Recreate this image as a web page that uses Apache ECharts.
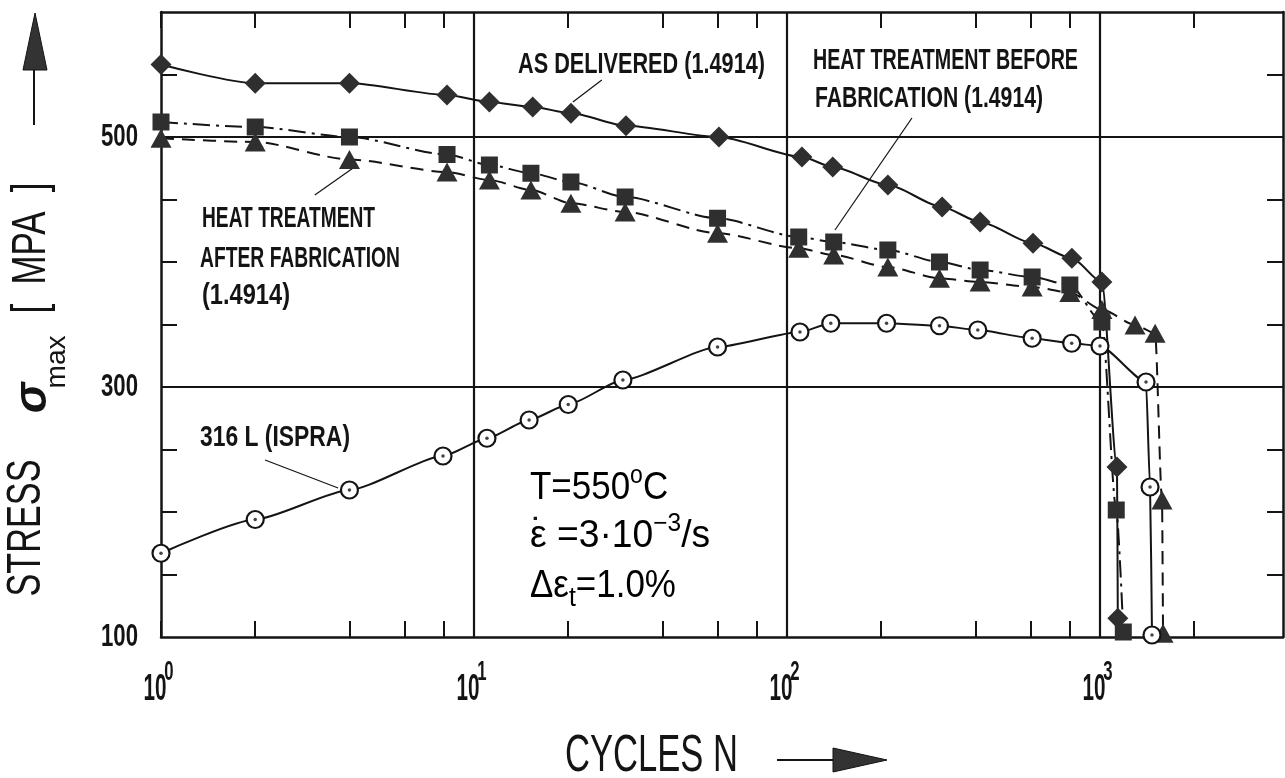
<!DOCTYPE html>
<html><head><meta charset="utf-8">
<script src="https://cdn.jsdelivr.net/npm/echarts@6/dist/echarts.min.js"></script>
<style>html,body{margin:0;padding:0;background:#fff}#c{width:1285px;height:778px}</style>
</head><body><div id="c"></div>
<script>
// ---------------- data ----------------
const asDeliveredN = [1, 2, 4, 8.2, 11.2, 15.4, 20.4, 30.6, 60.6, 111.6, 140, 210, 313, 414, 611, 813, 1014, 1133, 1140];
const asDeliveredS = [558, 543, 543, 533.6, 528, 524, 519, 509, 500, 484, 476, 461.6, 444, 432, 415, 403, 384, 236, 115];

const beforeFabN = [1, 2, 4, 8.2, 11.2, 15.2, 20.4, 30.4, 60, 109, 141, 210, 307, 414, 607, 801, 1014, 1127, 1187];
const beforeFabS = [512, 508, 500, 486, 477.6, 471, 464, 452, 435, 420, 416, 409.6, 400, 393.6, 388, 381.6, 352, 201.6, 104];

const afterFabN = [1, 2, 4, 8.2, 11.2, 15.2, 20.4, 30.4, 60, 109, 141, 210, 307, 414, 607, 801, 1014, 1294, 1500, 1578, 1590];
const afterFabS = [499, 496, 482, 472, 465.6, 457.6, 447, 440, 423, 411, 405.6, 396, 387, 384, 380, 375.6, 362, 349.6, 343, 209.6, 103];

const ispraN = [1, 2, 4, 7.96, 11, 15, 20, 29.9, 60, 110, 138, 208, 307, 407, 607, 812, 1000, 1403, 1445, 1466];
const ispraS = [167, 194, 217.6, 244.8, 259, 273.6, 286, 305.6, 332, 344, 351, 351, 349, 345.6, 339, 335, 332.8, 304, 220, 101.6];

const xTickLabels = [1, 10, 100, 1000];
const xTickExponents = ['0', '1', '2', '3'];
const xTicks = [1, 2, 4, 6, 8, 10, 20, 40, 60, 80, 100, 200, 400, 600, 800, 1000, 2000];
const yTickLabels = [100, 300, 500];
const yTicks = [150, 200, 250, 350, 400, 450, 550];
const gridX = [10, 100, 1000];
const gridY = [300, 500];
const xRange = [1, 3843];
const yRange = [100, 600];

// annotation leader lines in data coords [N, S]
const leaderLines = [
  [[25.6, 545.6], [20.7, 528]],
  [[250.7, 515.2], [142.3, 425.6]],
  [[3.1, 453.6], [4.11, 475.2]],
  [[2.15, 241.6], [3.68, 219.2]]
];
const noteTexts = ['AS DELIVERED (1.4914)', 'HEAT TREATMENT BEFORE', 'FABRICATION (1.4914)',
  'HEAT TREATMENT', 'AFTER FABRICATION', '(1.4914)', '316 L (ISPRA)'];

// ---------------- styling / layout ----------------
const ink = '#141414';
const markFill = '#2f2f2f';
const sans = "'Liberation Sans',Arial,sans-serif";
const noteLayout = [[518, 65, 247], [813, 61, 265], [815, 99, 228], [202, 219, 173], [200, 259, 200], [202, 296, 88], [200, 438, 150]];

const mctx = document.createElement('canvas').getContext('2d');
function fit(text, font, w) { mctx.font = font; return w / mctx.measureText(text).width; }
const pairs = (n, s) => n.map((v, i) => [v, s[i]]);

const tickStyle = { show: true, inside: true, length: 16, lineStyle: { color: ink, width: 2 } };
const lineAx = { show: true, lineStyle: { color: ink, width: 2.5 } };

function xAxis(pos) {
  return {
    type: 'log', logBase: 10, min: xRange[0], max: xRange[1], position: pos,
    axisLine: lineAx,
    axisTick: Object.assign({ customValues: xTicks }, tickStyle),
    minorTick: { show: false }, splitLine: { show: false },
    axisLabel: { show: false }
  };
}
function yAxis(pos) {
  return {
    type: 'value', min: yRange[0], max: yRange[1], position: pos,
    axisLine: lineAx,
    axisTick: Object.assign({ customValues: yTicks }, tickStyle),
    splitLine: { show: false },
    axisLabel: { show: false }
  };
}

const lineBase = { type: 'line', smooth: 0.25, smoothMonotone: 'x', z: 5, lineStyle: { color: ink, width: 2 }, itemStyle: { color: markFill } };

const series = [
  { type: 'line', data: [], z: 2, silent: true,
    markLine: { silent: true, symbol: ['none', 'none'], label: { show: false },
      lineStyle: { color: ink, width: 2.2, type: 'solid' },
      data: gridX.map(v => ({ xAxis: v })).concat(gridY.map(v => ({ yAxis: v }))) } },
  { type: 'line', data: [], z: 2, silent: true,
    markLine: { silent: true, symbol: ['none', 'none'], label: { show: false },
      lineStyle: { color: ink, width: 1.2, type: 'solid' },
      data: leaderLines.map(([a, b]) => [{ coord: a }, { coord: b }]) } },
  Object.assign({}, lineBase, { name: 'AS DELIVERED (1.4914)', data: pairs(asDeliveredN, asDeliveredS), symbol: 'diamond', symbolSize: 21 }),
  Object.assign({}, lineBase, { name: 'HEAT TREATMENT BEFORE FABRICATION (1.4914)', data: pairs(beforeFabN, beforeFabS), symbol: 'rect', symbolSize: 17,
    lineStyle: { color: ink, width: 2, type: [17, 6, 3, 6] } }),
  Object.assign({}, lineBase, { name: 'HEAT TREATMENT AFTER FABRICATION (1.4914)', data: pairs(afterFabN, afterFabS), symbol: 'triangle', symbolSize: [21, 19],
    lineStyle: { color: ink, width: 2, type: [13, 8] } }),
  Object.assign({}, lineBase, { name: '316 L (ISPRA)', data: pairs(ispraN, ispraS), symbol: 'circle', symbolSize: 17, smooth: 0.2,
    itemStyle: { color: '#fff', borderColor: ink, borderWidth: 2.2 } }),
  { type: 'scatter', data: pairs(ispraN, ispraS), symbol: 'circle', symbolSize: 3.5, z: 8, itemStyle: { color: ink }, silent: true }
];

// graphic texts
const noteFont = 'bold 30px ' + sans;
const graphic = noteTexts.map((t, i) => ({
  type: 'text', x: noteLayout[i][0], y: noteLayout[i][1], scaleX: fit(t, noteFont, noteLayout[i][2]),
  style: { text: t, font: noteFont, fill: ink, textAlign: 'left', textVerticalAlign: 'middle' }
}));

const pm = { fontFamily: sans, fontSize: 38, lineHeight: 50, verticalAlign: 'middle', color: ink };
const ps = { fontFamily: sans, fontSize: 25, lineHeight: 22, verticalAlign: 'top', color: ink };
const pb = { fontFamily: sans, fontSize: 27, lineHeight: 26, verticalAlign: 'bottom', color: ink };
graphic.push(
  { type: 'text', x: 530, y: 464, scaleX: 0.92, style: { text: '{m|T=550}{s|o}{m|C}', rich: { m: pm, s: ps }, textAlign: 'left', textVerticalAlign: 'top' } },
  { type: 'text', x: 530, y: 512, scaleX: 0.98, style: { text: '{m|\u03B5 =3\u00B710}{s|\u22123}{m|/s}', rich: { m: pm, s: ps }, textAlign: 'left', textVerticalAlign: 'top' } },
  { type: 'text', x: 537, y: 516, style: { text: '\u02D9', font: '38px ' + sans, fill: ink, textAlign: 'center', textVerticalAlign: 'top' } },
  { type: 'text', x: 530, y: 562, scaleX: 0.92, style: { text: '{m|\u0394\u03B5}{b|t}{m|=1.0%}', rich: { m: pm, b: pb }, textAlign: 'left', textVerticalAlign: 'top' } }
);

// axis titles
const tFont = '48px ' + sans;
graphic.push(
  { type: 'text', x: 27, y: 528, rotation: Math.PI / 2, scaleX: fit('STRESS', tFont, 137),
    style: { text: 'STRESS', font: tFont, fill: ink, textAlign: 'center', textVerticalAlign: 'middle' } },
  { type: 'text', x: 33, y: 398, rotation: Math.PI / 2,
    style: { text: '\u03C3', font: 'bold italic 46px ' + sans, fill: ink, textAlign: 'center', textVerticalAlign: 'middle' } },
  { type: 'text', x: 57, y: 362, rotation: Math.PI / 2,
    style: { text: 'max', font: '28px ' + sans, fill: ink, textAlign: 'center', textVerticalAlign: 'middle' } },
  { type: 'text', x: 32, y: 248, rotation: Math.PI / 2, scaleX: fit('[  MPA  ]', tFont, 131),
    style: { text: '[  MPA  ]', font: tFont, fill: ink, textAlign: 'center', textVerticalAlign: 'middle' } },
  { type: 'line', shape: { x1: 34, y1: 125, x2: 34, y2: 66 }, style: { stroke: ink, lineWidth: 2 } },
  { type: 'polygon', shape: { points: [[35, 13], [23, 70], [47, 70]] }, style: { fill: '#333', stroke: ink, lineWidth: 1 } },
  { type: 'text', x: 565, y: 757, scaleX: fit('CYCLES N', '52px ' + sans, 173),
    style: { text: 'CYCLES N', font: '52px ' + sans, fill: ink, textAlign: 'left', textVerticalAlign: 'middle' } },
  { type: 'line', shape: { x1: 777, y1: 760, x2: 836, y2: 760 }, style: { stroke: ink, lineWidth: 2 } },
  { type: 'polygon', shape: { points: [[833, 748], [833, 772], [887, 760]] }, style: { fill: '#333', stroke: ink, lineWidth: 1 } }
);

const chart = echarts.init(document.getElementById('c'), null, { renderer: 'canvas' });
chart.setOption({
  animation: false,
  backgroundColor: '#fff',
  grid: { left: 161, top: 12, width: 1122, height: 625 },
  xAxis: [xAxis('bottom'), xAxis('top')],
  yAxis: [yAxis('left'), yAxis('right')],
  series: series,
  graphic: graphic
});

// tick labels, placed through the axes' own scales (condensed look via scaleX)
const tickFont = 'bold 31px ' + sans;
const baseFont = 'bold 36px ' + sans;
const supFont = 'bold 27px ' + sans;
const tickGraphic = [];
yTickLabels.forEach(v => {
  const py = chart.convertToPixel({ yAxisIndex: 0 }, v);
  const t = String(v);
  tickGraphic.push({ type: 'text', x: 138, y: py, scaleX: fit(t, tickFont, 37),
    style: { text: t, font: tickFont, fill: ink, textAlign: 'right', textVerticalAlign: 'middle' } });
});
xTickLabels.forEach((v, i) => {
  const px = chart.convertToPixel({ xAxisIndex: 0 }, v);
  tickGraphic.push({ type: 'text', x: px - 6, y: 690, scaleX: fit('10', baseFont, 23),
    style: { text: '10', font: baseFont, fill: ink, textAlign: 'center', textVerticalAlign: 'middle' } });
  tickGraphic.push({ type: 'text', x: px + 8, y: 673, scaleX: 0.62,
    style: { text: xTickExponents[i], font: supFont, fill: ink, textAlign: 'center', textVerticalAlign: 'middle' } });
});
chart.setOption({ graphic: graphic.concat(tickGraphic) });
</script></body></html>
